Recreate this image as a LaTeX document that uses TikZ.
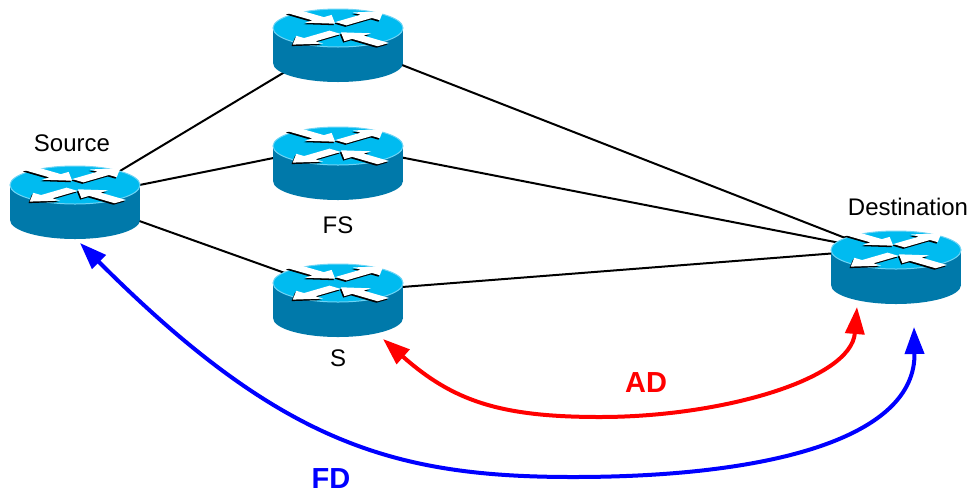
\documentclass[tikz,border=0pt]{standalone}
\usepackage{fontspec}
\setmainfont{Liberation Sans}
\usetikzlibrary{arrows.meta,calc}
\definecolor{routertop}{RGB}{0,187,240}
\definecolor{routerside}{RGB}{0,121,170}
\definecolor{routerrim}{RGB}{110,212,245}
\tikzset{
  router/.pic={
    \fill[routerside] (-65,0) rectangle (65,35);
    \fill[routerside] (0,35) ellipse [x radius=65, y radius=19];
    \fill[routertop, draw=routerrim, line width=0.5pt] (0,0) ellipse [x radius=65, y radius=19];
    \foreach \dx/\dy/\col in {-1.2/1.5/black, 0/0/white} {
      \begin{scope}[shift={(\dx,\dy)}, yscale=0.29]
        \foreach \ang/\off in {135/-12,315/12}
          \fill[\col, shift={(0,\off)}, rotate=\ang] (64,-8) -- (28,-8) -- (28,-19) -- (4,0) -- (28,19) -- (28,8) -- (64,8) -- cycle;
        \foreach \ang/\off in {45/-12,225/12}
          \fill[\col, shift={(0,\off)}, rotate=\ang] (4,-8) -- (40,-8) -- (40,-19) -- (64,0) -- (40,19) -- (40,8) -- (4,8) -- cycle;
      \end{scope}
    }
  },
  link/.style={line width=1pt},
  metric/.style={line width=2pt, {Triangle[length=13.5pt,width=9.5pt]}-{Triangle[length=13.5pt,width=9.5pt]}},
  routername/.style={font=\fontsize{12}{14}\selectfont},
  metricname/.style={font=\fontsize{14.5}{16}\selectfont\bfseries, inner sep=0pt}
}
\begin{document}
\begin{tikzpicture}[x=0.5pt, y=-0.5pt]
  \useasboundingbox (0,0) rectangle (972,493);

  % hubs
  \coordinate (source) at (75,198);
  \coordinate (top) at (338,40);
  \coordinate (fs) at (338,145);
  \coordinate (s) at (338,292);
  \coordinate (dest) at (876,250);

  % links
  \draw[link] (source) -- (top);
  \draw[link] (source) -- (fs);
  \draw[link] (source) -- (s);
  \draw[link] (top) -- (dest);
  \draw[link] (fs) -- (dest);
  \draw[link] (s) -- (dest);

  % routers
  \pic (sourcebox) at (75,185) {router};
  \pic (topbox) at (338,28) {router};
  \pic (fsbox) at (338,146) {router};
  \pic (sbox) at (338,283) {router};
  \pic (destbox) at (896,250) {router};

  % names
  \node[routername] (sourcename) at (72,143) {Source};
  \node[routername] (fsname) at (338,225) {FS};
  \node[routername] (sname) at (338,358) {S};
  \node[routername] (destname) at (908,207) {Destination};

  % distances
  \coordinate (s-ad) at (383,339);
  \coordinate (ad-low) at (600,417);
  \coordinate (dest-ad) at (857,307);
  \draw[metric, red] (s-ad) .. controls ($(s-ad)+(70,62)$) and ($(ad-low)+(-100,0)$) .. (ad-low)
    .. controls ($(ad-low)+(120,0)$) and ($(dest-ad)+(-6,73)$) .. (dest-ad);
  \coordinate (source-fd) at (80,243);
  \coordinate (fd-low) at (573,477);
  \coordinate (dest-fd) at (914,327);
  \draw[metric, blue] (source-fd) .. controls ($(source-fd)+(200,200)$) and ($(fd-low)+(-180,0)$) .. (fd-low)
    .. controls ($(fd-low)+(200,0)$) and ($(dest-fd)+(2,110)$) .. (dest-fd);
  \node[metricname, red] (ad) at (646,383) {AD};
  \node[metricname, blue] (fd) at (331,479) {FD};
\end{tikzpicture}
\end{document}
